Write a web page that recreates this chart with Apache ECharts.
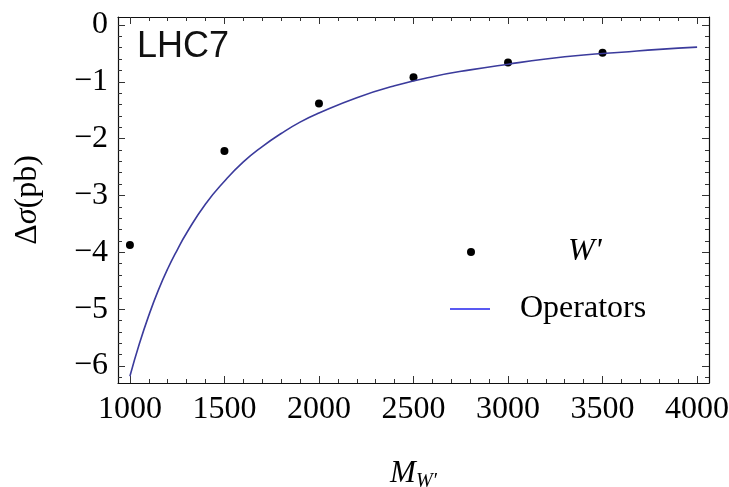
<!DOCTYPE html>
<html>
<head>
<meta charset="utf-8">
<script src="https://cdn.jsdelivr.net/npm/echarts@6/dist/echarts.min.js"></script>
<style>
  html, body { margin: 0; padding: 0; background: #fff; }
  #chart { width: 729px; height: 487px; }
</style>
</head>
<body>
<div id="chart"></div>
<script>
// W' points
var wMass = [1000, 1500, 2000, 2500, 3000, 3500];
var wDelta = [-3.87, -2.22, -1.38, -0.92, -0.66, -0.49];

// operators curve, estimated along the line
var opMass = [1000, 1050, 1100, 1150, 1200, 1250, 1300, 1400, 1500, 1600, 1700, 1800, 1900, 2000,
  2200, 2400, 2600, 2800, 3000, 3200, 3400, 3600, 3800, 4000];
var opDelta = [-6.18, -5.61, -5.11, -4.67, -4.29, -3.96, -3.66, -3.15, -2.75, -2.41, -2.14, -1.91, -1.71, -1.55,
  -1.28, -1.07, -0.91, -0.79, -0.69, -0.60, -0.53, -0.48, -0.43, -0.39];

var xMajor = [1000, 1500, 2000, 2500, 3000, 3500, 4000];
var yMajor = [0, -1, -2, -3, -4, -5, -6];

var xMinor = [];
for (var v = 1000; v <= 4000; v += 100) xMinor.push(v);
var yMinor = [];
for (var k = 0; k >= -31; k--) yMinor.push(+(k * 0.2).toFixed(1));

var xMin = 937, xMax = 4063, yMin = -6.3, yMax = 0.14;
var serif = 'Liberation Serif';
var tickColor = '#333';

function xAx(pos, values, len, showLabel, showLine) {
  return {
    type: 'value', position: pos, min: xMin, max: xMax,
    splitLine: { show: false },
    axisLine: { show: showLine, onZero: false, lineStyle: { color: '#111', width: 1.2 } },
    axisTick: { show: true, inside: true, length: len, customValues: values, lineStyle: { color: tickColor, width: 1 } },
    axisLabel: {
      show: showLabel, customValues: xMajor, margin: 11, fontFamily: serif, fontSize: 32, color: '#000',
      formatter: function (val) { return String(val); }
    }
  };
}
function yAx(pos, values, len, showLabel, showLine) {
  return {
    type: 'value', position: pos, min: yMin, max: yMax,
    splitLine: { show: false },
    axisLine: { show: showLine, onZero: false, lineStyle: { color: '#111', width: 1.2 } },
    axisTick: { show: true, inside: true, length: len, customValues: values, lineStyle: { color: tickColor, width: 1 } },
    axisLabel: {
      show: showLabel, customValues: yMajor, margin: 10, fontFamily: serif, fontSize: 32, color: '#000',
      formatter: function (val) { return String(val).replace('-', '\u2212'); }
    }
  };
}

var xAxes = [xAx('bottom', xMajor, 7, true, true), xAx('bottom', xMinor, 4, false, false),
  xAx('top', xMajor, 7, false, true), xAx('top', xMinor, 4, false, false)];
xAxes[0].name = '{m|M}{s|W\u2032}';
xAxes[0].nameLocation = 'middle';
xAxes[0].nameGap = 73;
xAxes[0].nameTextStyle = {
  rich: {
    m: { fontFamily: serif, fontStyle: 'italic', fontSize: 31, color: '#000' },
    s: { fontFamily: serif, fontStyle: 'italic', fontSize: 20, color: '#000', verticalAlign: 'bottom', padding: [16, 0, 0, 0] }
  }
};

var yAxes = [yAx('left', yMajor, 7, true, true), yAx('left', yMinor, 4, false, false),
  yAx('right', yMajor, 7, false, true), yAx('right', yMinor, 4, false, false)];
yAxes[0].name = '{n|\u0394}{i|\u03c3}{n|(pb)}';
yAxes[0].nameLocation = 'middle';
yAxes[0].nameGap = 74;
yAxes[0].nameTextStyle = {
  rich: {
    n: { fontFamily: serif, fontSize: 32, color: '#000' },
    i: { fontFamily: serif, fontStyle: 'italic', fontSize: 32, color: '#000' }
  }
};

var chart = echarts.init(document.getElementById('chart'));
chart.setOption({
  animation: false,
  backgroundColor: '#fff',
  grid: { left: 118, top: 17, right: 20, bottom: 104, outerBoundsMode: 'none' },
  xAxis: xAxes,
  yAxis: yAxes,
  series: [
    {
      name: 'Operators', type: 'line', smooth: true, showSymbol: false,
      data: opMass.map(function (m, i) { return [m, opDelta[i]]; }),
      lineStyle: { color: '#3b3b9c', width: 1.6 }
    },
    {
      name: "W'", type: 'scatter', symbolSize: 8,
      data: wMass.map(function (m, i) { return [m, wDelta[i]]; }),
      itemStyle: { color: '#000', opacity: 1 }
    }
  ],
  graphic: [
    { type: 'text', left: 137, top: 29, style: { text: 'LHC7', fontFamily: 'Liberation Sans', fontSize: 36, fill: '#111' } },
    { type: 'circle', shape: { cx: 471, cy: 252, r: 4 }, style: { fill: '#000' } },
    { type: 'text', x: 568, y: 252, style: { text: "W'", fontFamily: serif, fontStyle: 'italic', fontSize: 32, fill: '#000', verticalAlign: 'middle' } },
    { type: 'line', shape: { x1: 450, y1: 309, x2: 490, y2: 309 }, style: { stroke: '#2222ee', lineWidth: 1.6 } },
    { type: 'text', x: 520, y: 309, style: { text: 'Operators', fontFamily: serif, fontSize: 32, fill: '#000', verticalAlign: 'middle' } }
  ]
});
</script>
</body>
</html>
